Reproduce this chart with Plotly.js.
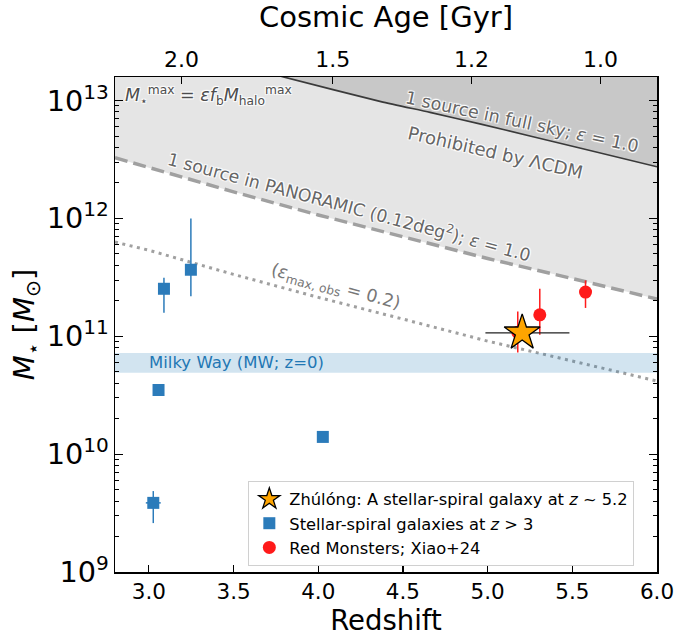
<!DOCTYPE html>
<html><head><meta charset="utf-8">
<script src="https://cdn.plot.ly/plotly-3.0.1.min.js"></script>
<style>body{margin:0;background:#fff}</style></head>
<body><div id="chart" style="width:680px;height:637px"></div>
<script>
// ---- data ----
const lineZ       = [2.8, 3.0, 3.5, 4.0, 4.5, 5.0, 5.5, 6.0];
const panoramicM  = [3.27e12, 2.69e12, 1.68e12, 1.07e12, 7.0e11, 4.57e11, 3.09e11, 2.07e11];
const obsM        = [6.3e11, 5.37e11, 3.35e11, 2.14e11, 1.4e11, 9.1e10, 6.17e10, 4.17e10];
const fullSkyZ    = [3.6, 3.8, 4.37, 4.66, 4.96, 5.25, 5.55, 6.0];
const fullSkyM    = [1.88e13, 1.58e13, 9.8e12, 7.94e12, 6.31e12, 5.01e12, 3.94e12, 2.74e12];
const mwLow = 4.9e10, mwHigh = 7.2e10;

const spiralZ     = [3.057, 3.089, 3.248, 4.027, 3.026];
const spiralM     = [3.5e10, 2.53e11, 3.67e11, 1.40e10, 3.86e9];
const spiralErrUp = [0, 6.1e10, 6.33e11, 0, 1.0e9];
const spiralErrDn = [0, 9.5e10, 1.48e11, 0, 1.26e9];
const spiralZErr  = [0, 0, 0, 0, 0.044];

const redZ        = [5.578, 5.308, 5.178];
const redM        = [2.37e11, 1.52e11, 1.08e11];
const redErrUp    = [6.1e10, 1.01e11, 5.4e10];
const redErrDn    = [6.3e10, 4.9e10, 3.5e10];

const zhulongZ      = [5.204];
const zhulongM      = [1.07e11];
const zhulongZErrUp = [0.279];
const zhulongZErrDn = [0.217];

const zTicks      = [3.0, 3.5, 4.0, 4.5, 5.0, 5.5, 6.0];
const ageTickZ    = [3.193, 4.085, 4.905, 5.667];
const ageTickText = ['2.0', '1.5', '1.2', '1.0'];

// ---- plot ----
const FONT = 'DejaVu Sans, Liberation Sans, sans-serif';
const CEIL = 1e14;
const xr = [2.8, 6.0];
const noHover = {hoverinfo: 'skip', showlegend: false};

const traces = [
  Object.assign({x: lineZ.concat([lineZ[lineZ.length-1], lineZ[0]]),
    y: panoramicM.concat([CEIL, CEIL]), mode: 'lines', fill: 'toself',
    fillcolor: '#e5e5e5', line: {width: 0}}, noHover),
  Object.assign({x: fullSkyZ.concat([fullSkyZ[fullSkyZ.length-1], fullSkyZ[0]]),
    y: fullSkyM.concat([CEIL, CEIL]), mode: 'lines', fill: 'toself',
    fillcolor: '#c8c8c8', line: {width: 0}}, noHover),
  Object.assign({x: fullSkyZ, y: fullSkyM, mode: 'lines',
    line: {color: '#3a3a3a', width: 1.6, shape: 'spline', smoothing: 0.6}}, noHover),
  Object.assign({x: lineZ, y: panoramicM, mode: 'lines',
    line: {color: '#a0a0a0', width: 3.5, dash: '13px,6px'}}, noHover),
  Object.assign({x: lineZ, y: obsM, mode: 'lines',
    line: {color: '#a0a0a0', width: 3, dash: '3px,4.5px'}}, noHover),
  Object.assign({x: [xr[0], xr[1], xr[1], xr[0], xr[0]],
    y: [mwLow, mwLow, mwHigh, mwHigh, mwLow], mode: 'lines', fill: 'toself',
    fillcolor: 'rgba(31,119,180,0.2)', line: {width: 0}}, noHover),
  {x: spiralZ, y: spiralM, mode: 'markers', type: 'scatter',
    name: 'Stellar-spiral galaxies at <i>z</i> > 3', legendrank: 2,
    marker: {symbol: 'square', size: 12, color: '#2b7bba'},
    error_y: {type: 'data', symmetric: false, array: spiralErrUp, arrayminus: spiralErrDn,
      color: '#2b7bba', thickness: 1.5, width: 0},
    error_x: {type: 'data', array: spiralZErr, color: '#2b7bba', thickness: 1.5, width: 0}},
  {x: redZ, y: redM, mode: 'markers', type: 'scatter',
    name: 'Red Monsters; Xiao+24', legendrank: 3,
    marker: {symbol: 'circle', size: 13, color: '#ff1a1a'},
    error_y: {type: 'data', symmetric: false, array: redErrUp, arrayminus: redErrDn,
      color: '#ff1a1a', thickness: 1.5, width: 0}},
  {x: zhulongZ, y: zhulongM, mode: 'markers', type: 'scatter',
    name: 'Zhúlóng: A stellar-spiral galaxy at <i>z</i> ~ 5.2', legendrank: 1,
    marker: {symbol: 'star', size: 27, color: '#ffa500', line: {color: '#000', width: 1.3}},
    error_x: {type: 'data', symmetric: false, array: zhulongZErrUp, arrayminus: zhulongZErrDn,
      color: '#222', thickness: 1.2, width: 0}},
  // invisible trace to activate the top axis
  {x: xr, y: [1e9, 1e9], xaxis: 'x2', mode: 'markers', marker: {opacity: 0},
    hoverinfo: 'skip', showlegend: false}
];

const shadow = '1px 1px 1px #fff, -1px -1px 1px #fff, 1px -1px 1px #fff, -1px 1px 1px #fff';
const ann = (x, ylog, text, angle, size, color) => ({
  x: x, y: ylog, xref: 'x', yref: 'y', text: text, showarrow: false,
  textangle: angle, font: {family: FONT, size: size, color: color, shadow: shadow}
});

const layout = {
  width: 680, height: 637,
  margin: {l: 115, r: 23, t: 77, b: 65},
  paper_bgcolor: '#fff', plot_bgcolor: '#fff',
  font: {family: FONT, color: '#000'},
  showlegend: true,
  legend: {x: 0.246, y: 0.184, xanchor: 'left', yanchor: 'top',
    bgcolor: 'rgba(255,255,255,0.9)', bordercolor: '#d0d0d0', borderwidth: 1,
    font: {family: FONT, size: 16.3, color: '#000'}, itemsizing: 'trace',
    tracegroupgap: 4},
  xaxis: {range: xr, tickvals: zTicks, tickformat: '.1f', ticks: 'inside', ticklen: 7,
    tickwidth: 1.2, tickcolor: '#000', showline: true, linecolor: '#000', linewidth: 1.5,
    showgrid: false, zeroline: false, tickfont: {size: 21.5},
    title: {text: 'Redshift', font: {size: 27.5}, standoff: 6}},
  xaxis2: {overlaying: 'x', side: 'top', range: xr, tickvals: ageTickZ, ticktext: ageTickText,
    ticks: 'inside', ticklen: 7, tickwidth: 1.2, tickcolor: '#000', showline: true,
    linecolor: '#000', linewidth: 1.5, showgrid: false, zeroline: false,
    tickfont: {size: 22}, title: {text: 'Cosmic Age [Gyr]', font: {size: 29}}},
  yaxis: {type: 'log', range: [9, 13.2], dtick: 1, exponentformat: 'power',
    ticks: 'inside', ticklen: 8, tickwidth: 1.2, tickcolor: '#000',
    minor: {ticks: 'inside', ticklen: 4, tickwidth: 1, tickcolor: '#000', dtick: 'D1', showgrid: false},
    showline: true, linecolor: '#000', linewidth: 1.5, mirror: 'ticks',
    showgrid: false, zeroline: false, tickfont: {size: 23},
    title: {text: '<i>M</i><sub>⋆</sub> [<i>M</i><sub>⊙</sub>]', font: {size: 29}}},
  annotations: [
    ann(3.354, 13.04, '<i>M</i><sub>⋆</sub><sup>max</sup> = <i>εf</i><sub>b</sub><i>M</i><sub>halo</sub><sup>max</sup>', 0, 17.5, '#4d4d4d'),
    ann(5.204, 12.816, '1 source in full sky; <i>ε</i> = 1.0', 12, 17.5, '#666'),
    ann(5.047, 12.558, 'Prohibited by ΛCDM', 13, 18, '#666'),
    ann(4.185, 12.105, '1 source in PANORAMIC (0.12deg<sup>2</sup>); <i>ε</i> = 1.0', 15, 17.3, '#666'),
    ann(4.102, 11.411, '(<i>ε</i><sub>max, obs</sub> = 0.2)', 15, 17.5, '#777'),
    Object.assign(ann(3.519, 10.778, 'Milky Way (MW; z=0)', 0, 16.5, '#1f77b4'), {font: {family: FONT, size: 16.5, color: '#1f77b4'}})
  ]
};

Plotly.newPlot('chart', traces, layout, {staticPlot: true, displayModeBar: false});
</script>
</body></html>
